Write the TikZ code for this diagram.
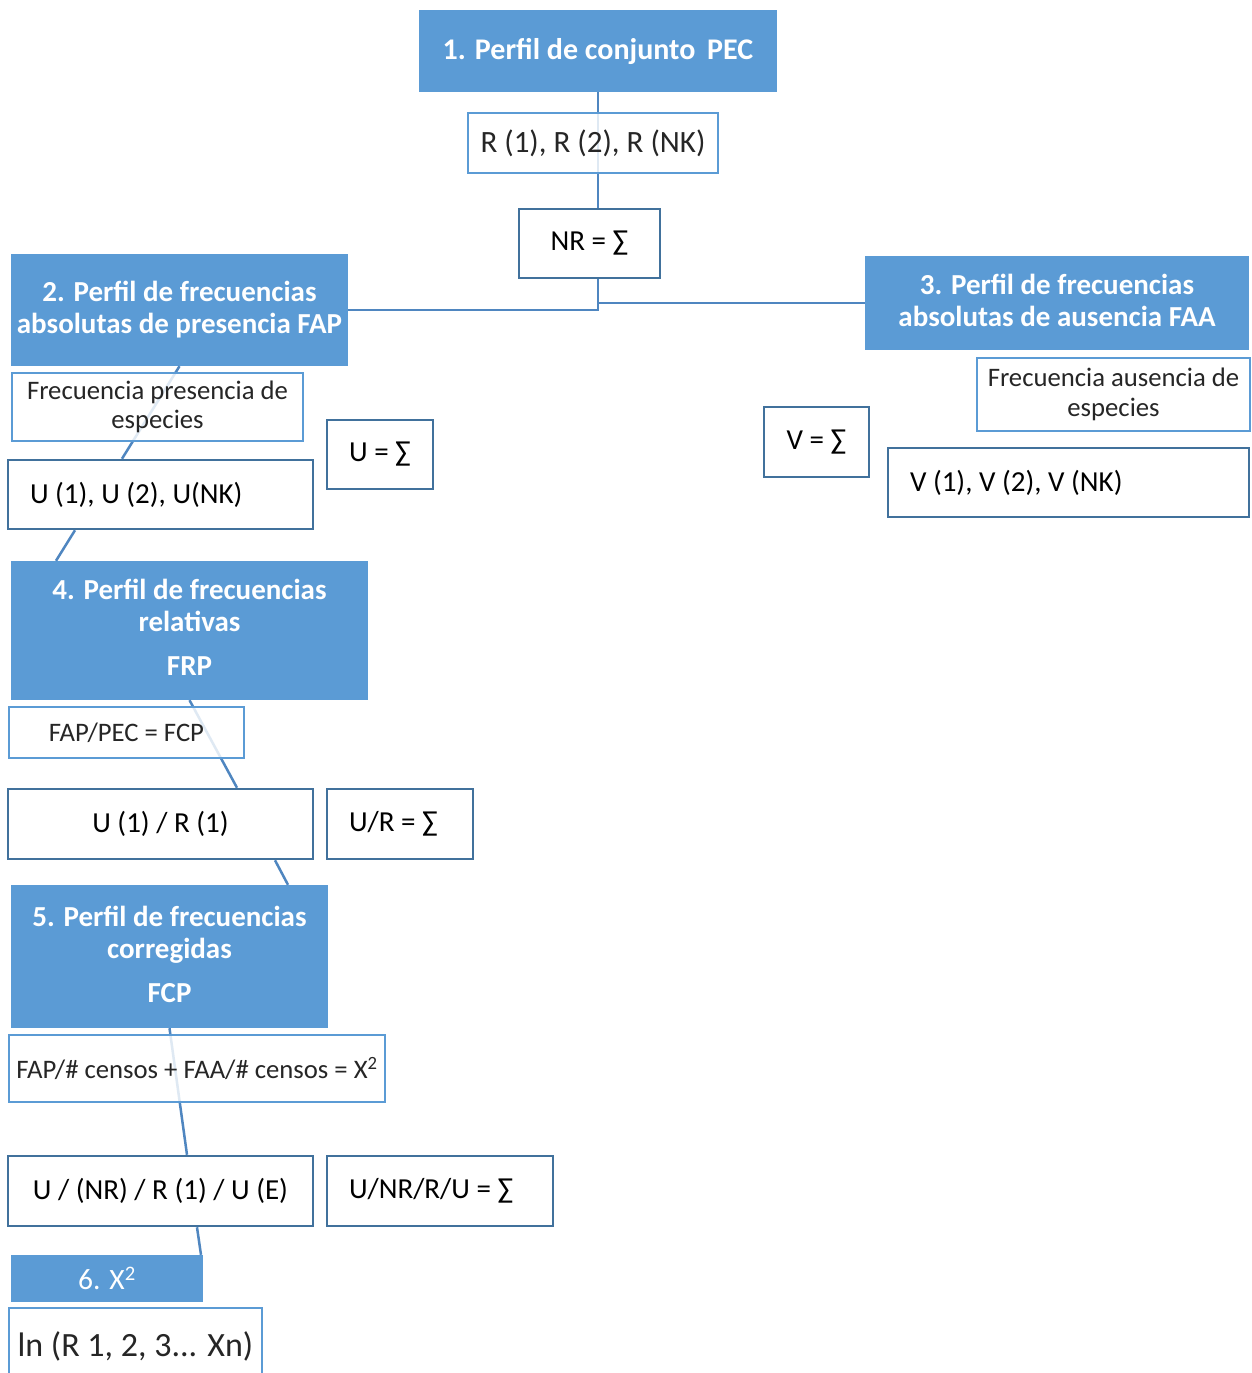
\documentclass[tikz,border=0pt]{standalone}
\usepackage{fontspec}
\setmainfont{Carlito}
\usetikzlibrary{calc}
\definecolor{hdrc}{HTML}{5B9BD5}
\definecolor{dkc}{HTML}{41719C}
\definecolor{lnc}{HTML}{4F86C0}
\begin{document}
\begin{tikzpicture}[x=1pt,y=-1pt,
  hdr/.style={fill=hdrc, draw=none, text=white, font=\bfseries\fontsize{29}{32}\selectfont, align=center, inner sep=0pt},
  lbox/.style={draw=hdrc, line width=2pt, fill=white, fill opacity=0.82, text opacity=1, text=black!85, font=\fontsize{26.7}{29.5}\selectfont, align=center, inner sep=0pt},
  dbox/.style={draw=dkc, line width=2.5pt, fill=white, text=black, font=\fontsize{29}{34}\selectfont, align=center, inner sep=0pt},
  conn/.style={draw=lnc, line width=2.5pt}]
\clip (0,0) rectangle (1252,1373);
\fill[white] (0,0) rectangle (1252,1373);
% header boxes
\node[hdr, font=\bfseries\fontsize{30}{33}\selectfont, minimum width=358pt, minimum height=82pt] (h1) at (598,51) {1. Perfil de conjunto{\hspace{5pt}} PEC};
\node[hdr, minimum width=337pt, minimum height=112pt] (h2) at (179.5,310) {2. Perfil de frecuencias\\absolutas de presencia FAP};
\node[hdr, minimum width=384pt, minimum height=94pt] (h3) at (1057,303) {\parbox{380pt}{\centering 3. Perfil de frecuencias\\absolutas de ausencia FAA\par\vspace{6pt}}};
\node[hdr, minimum width=357pt, minimum height=139pt] (h4) at (189.5,630.5) {\parbox{350pt}{\centering 4. Perfil de frecuencias\\relativas\\[12pt]FRP\par\vspace{6pt}}};
\node[hdr, minimum width=317pt, minimum height=143pt] (h5) at (169.5,956.5) {\parbox{310pt}{\centering 5. Perfil de frecuencias\\corregidas\\[12pt]FCP\par\vspace{4pt}}};
\node[hdr, font=\fontsize{29.5}{32}\selectfont, minimum width=192pt, minimum height=47pt] (h6) at (107,1278.5) {6. X\textsuperscript{2}};
% connectors from the top node
\draw[conn] (h1.south) |- (h2.east);
\draw[conn] (h1.south) |- (h3.west);
% main column boxes
\node[dbox, minimum width=305pt, minimum height=69pt, text width=261pt, align=flush left] (ubox) at (160.5,494.5) {U (1), U (2), U(NK)};
\node[dbox, minimum width=305pt, minimum height=70pt] (u1r1) at (160.5,824) {U (1) / R (1)};
\node[dbox, minimum width=305pt, minimum height=70pt] (unr) at (160.5,1191) {U / (NR) / R (1) / U (E)};
% column connectors
\draw[conn] (h2.south) -- ([xshift=-38.5pt]ubox.north);
\draw[conn] ([xshift=-85.5pt]ubox.south) -- ([xshift=-133.5pt]h4.north);
\draw[conn] (h4.south) -- ([xshift=76.5pt]u1r1.north);
\draw[conn] ([xshift=114.5pt]u1r1.south) -- ([xshift=118.5pt]h5.north);
\draw[conn] (h5.south) -- ([xshift=26.5pt]unr.north);
\draw[conn] ([xshift=36.5pt]unr.south) -- ([xshift=94pt]h6.north);
% light boxes (translucent, connectors show faintly through)
\node[lbox, font=\fontsize{31}{34}\selectfont, minimum width=250pt, minimum height=60pt] (rbox) at (593,143) {R (1), R (2), R (NK)};
\node[lbox, minimum width=291pt, minimum height=68pt] (fp) at (157.5,407) {Frecuencia presencia de\\especies};
\node[lbox, minimum width=273pt, minimum height=73pt] (fa) at (1113.5,394.5) {Frecuencia ausencia de\\especies};
\node[lbox, minimum width=235pt, minimum height=51pt] (fcp) at (126.5,732.5) {FAP/PEC = FCP};
\node[lbox, minimum width=376pt, minimum height=67pt] (xbox) at (197,1068.5) {FAP/\# censos + FAA/\# censos = X\textsuperscript{2}};
\node[lbox, font=\fontsize{34}{40}\selectfont, minimum width=253pt, minimum height=76pt] (lnbox) at (135.5,1346) {ln (R 1, 2, 3... Xn)};
% other dark boxes
\node[dbox, minimum width=141pt, minimum height=69pt] (nr) at (589.5,243.5) {NR = ∑};
\node[dbox, minimum width=106pt, minimum height=69pt] (usum) at (380,454.5) {U = ∑};
\node[dbox, minimum width=105pt, minimum height=70pt] (vsum) at (816.5,442) {V = ∑};
\node[dbox, minimum width=361pt, minimum height=69pt, text width=317pt, align=flush left] (vbox) at (1068.5,482.5) {V (1), V (2), V (NK)};
\node[dbox, minimum width=146pt, minimum height=70pt, text width=102pt, align=flush left] (ursum) at (400,824) {U/R = ∑};
\node[dbox, minimum width=226pt, minimum height=70pt, text width=182pt, align=flush left] (unrsum) at (440,1191) {U/NR/R/U = ∑};
\end{tikzpicture}
\end{document}
